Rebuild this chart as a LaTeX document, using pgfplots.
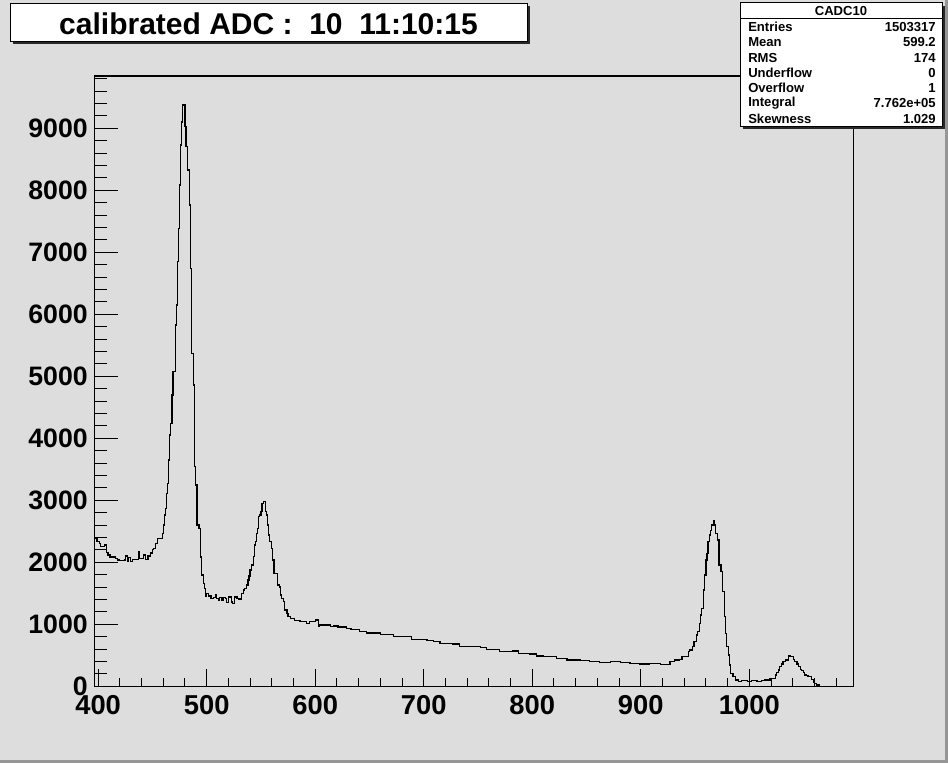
\documentclass[border=0pt]{standalone}
\usepackage{pgfplots}
\pgfplotsset{compat=1.18}
\usepackage{fontspec}
\setmainfont{Liberation Sans}
\definecolor{bgc}{RGB}{221,221,221}
\definecolor{bdr}{RGB}{150,150,150}
\definecolor{shd}{RGB}{40,40,40}
\begin{document}
\begin{tikzpicture}
% canvas (px coordinates, y down)
\begin{scope}[shift={(0pt,572.25pt)}, x=0.75pt, y=-0.75pt]
\fill[bgc] (0,0) rectangle (948,763);
\fill[bdr] (945,0) rectangle (948,763);
\fill[bdr] (0,760) rectangle (948,763);
\end{scope}
% y ticks axis
\begin{axis}[at={(71.0pt,57.53pt)}, anchor=south west, scale only axis,
  width=568.95pt, height=457.7pt,
  xmin=396.8, xmax=1095.8, ymin=0, ymax=9843,
  axis line style={draw=none},
  xtick=\empty,
  ytick={0,1000,2000,3000,4000,5000,6000,7000,8000,9000},
  yticklabels={0,1000,2000,3000,4000,5000,6000,7000,8000,9000},
  minor ytick={200,400,...,9800},
  ytick pos=left, tick align=inside,
  major tick length=17.5pt, minor tick length=9pt,
  tick style={black, line width=0.75pt},
  yticklabel style={font=\fontsize{20}{20}\selectfont\bfseries, inner sep=0pt, anchor=east, xshift=-5pt},
]
\end{axis}
% main axis
\begin{axis}[at={(71.0pt,57.53pt)}, anchor=south west, scale only axis,
  width=568.95pt, height=457.7pt,
  xmin=396.8, xmax=1095.8, ymin=0, ymax=9843,
  axis line style={black, line width=0.9pt},
  ytick=\empty,
  xtick={400,500,600,700,800,900,1000},
  xticklabels={400,500,600,700,800,900,1000},
  minor xtick={420,440,...,1080},
  xtick pos=bottom, tick align=inside,
  major tick length=13.3pt, minor tick length=6.5pt,
  tick style={black, line width=0.75pt},
  xticklabel style={font=\fontsize{20.5}{20}\selectfont\bfseries, inner sep=0pt, anchor=north, yshift=-6.5pt},
]
\addplot[const plot mark left, black, line width=0.9pt, mark=none] coordinates {
(396.8,2387) (399,2333) (401,2306) (402,2260) (406,2280) (408,2155) (409,2118) (411,2085) (416,2060) (418,2037) (420,2026) (424,2037) (425,2100) (427,2010) (428,2080) (430,2010) (432,2048) (437,2170) (438,2060) (442,2118) (444,2040) (446,2100) (448,2150) (450,2200) (451,2226) (453,2300) (455,2390) (459,2468) (460,2602) (461,2763) (462,2871) (463,3113) (464,3274) (465,3650) (466,4053) (467,4242) (468,4698) (469,5074) (471,5827) (472,6150) (473,6848) (474,7387) (475,8085) (476,8730) (477,9100) (478,9374) (480,9026) (481,8703) (482,8327) (484,7763) (485,6742) (486,5371) (488,4860) (489,3542) (490,3247) (491,2602) (493,2548) (494,2085) (495,1795) (497,1661) (498,1581) (499,1456) (500,1500) (502,1456) (504,1419) (506,1430) (508,1472) (509,1419) (511,1392) (512,1430) (514,1392) (515,1430) (517,1419) (518,1349) (520,1440) (523,1360) (524,1339) (526,1440) (528,1419) (529,1408) (532,1500) (534,1553) (535,1581) (537,1634) (538,1715) (539,1779) (540,1876) (541,1957) (543,2091) (544,2279) (545,2333) (546,2468) (547,2548) (548,2736) (549,2763) (550,2816) (551,2951) (552,2978) (554,2816) (555,2763) (556,2602) (557,2440) (558,2333) (560,2226) (561,2037) (562,1823) (565,1634) (567,1600) (568,1472) (569,1419) (571,1365) (572,1231) (574,1177) (575,1123) (577,1096) (581,1058) (586,1042) (592,1016) (595,1042) (600,1069) (603,961) (604,989) (614,961) (617,973) (621,955) (629,935) (633,910) (641,881) (647,858) (660,830) (672,800) (689,752) (703,735) (709,720) (715,690) (727,683) (733,645) (752,629) (758,590) (770,565) (782,570) (787,530) (798,521) (804,489) (810,478) (822,452) (832,424) (844,413) (853,397) (862,381) (872,397) (881,381) (890,371) (899,360) (908,371) (918,355) (927,397) (931,424) (936,435) (938,478) (944,558) (945,586) (948,639) (949,720) (951,827) (952,881) (954,1016) (955,1150) (956,1258) (958,1553) (959,1795) (960,2037) (961,2145) (962,2333) (963,2440) (964,2510) (965,2602) (967,2671) (968,2602) (969,2468) (971,2360) (972,1957) (974,1849) (975,1527) (977,1123) (978,855) (979,639) (981,505) (982,344) (983,210) (985,155) (987,102) (990,74) (993,90) (998,74) (1002,90) (1007,74) (1011,90) (1014,102) (1019,129) (1024,182) (1025,219) (1027,263) (1028,316) (1030,360) (1031,397) (1033,424) (1036,489) (1038,478) (1041,435) (1042,397) (1044,360) (1045,316) (1047,274) (1048,250) (1050,219) (1051,182) (1053,170) (1054,155) (1057,113) (1059,58) (1060,48) (1062,21) (1065,0) (1095.8,0)
};
\end{axis}
% title and stats boxes
\begin{scope}[shift={(0pt,572.25pt)}, x=0.75pt, y=-0.75pt]
\fill[shd] (13,6) rectangle (530,44.5);
\filldraw[fill=white, draw=black, line width=0.75pt] (10,3.3) rectangle (527,41.7);
\node[font=\fontsize{22.5}{26}\selectfont\bfseries, anchor=base] at (268.5,34.5) {calibrated ADC :\ \ 10\ \ 11:10:15};
\fill[shd] (743,6) rectangle (945,129.5);
\filldraw[fill=white, draw=black, line width=0.75pt] (740,3) rectangle (942,126.5);
\draw[black, line width=0.75pt] (740,19) -- (942,19);
\begin{scope}[every node/.style={font=\fontsize{9.8}{10}\selectfont\bfseries, inner sep=0pt}]
\node[anchor=base] at (841,15.5) {CADC10};
\node[anchor=base west] at (748,31.7) {Entries};
\node[anchor=base east] at (936,31.7) {1503317};
\node[anchor=base west] at (748,46.9) {Mean};
\node[anchor=base east] at (936,46.9) {599.2};
\node[anchor=base west] at (748,62.1) {RMS};
\node[anchor=base east] at (936,62.1) {174};
\node[anchor=base west] at (748,77.3) {Underflow};
\node[anchor=base east] at (936,77.3) {0};
\node[anchor=base west] at (748,92.5) {Overflow};
\node[anchor=base east] at (936,92.5) {1};
\node[anchor=base west] at (748,106.5) {Integral};
\node[anchor=base east] at (936,107.7) {7.762e+05};
\node[anchor=base west] at (748,123.2) {Skewness};
\node[anchor=base east] at (936,123.2) {1.029};
\end{scope}
\end{scope}
\end{tikzpicture}
\end{document}
